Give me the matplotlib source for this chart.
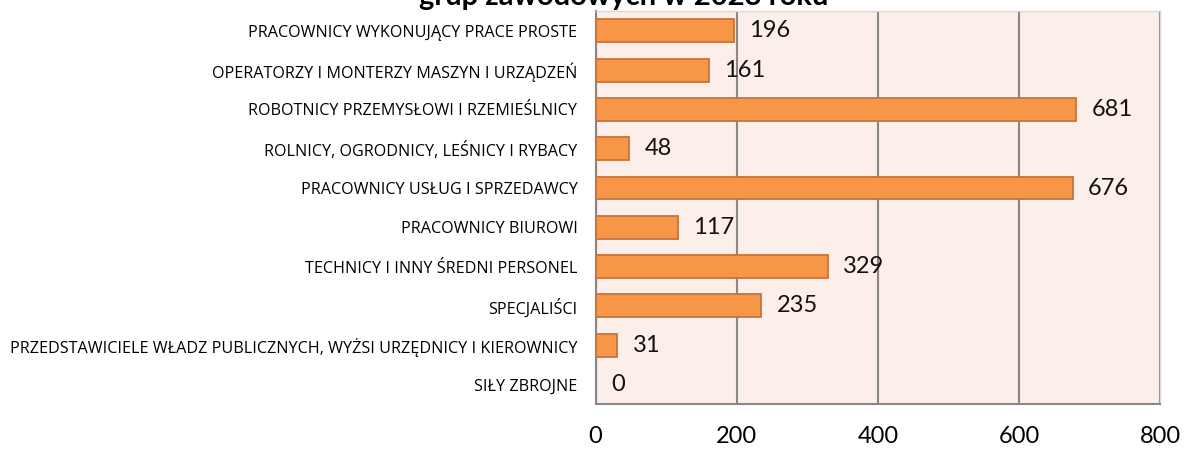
import matplotlib
matplotlib.use('Agg')
from matplotlib import pyplot as plt

# dane (od dołu do góry)
categories = [
    'SIŁY ZBROJNE',
    'PRZEDSTAWICIELE WŁADZ PUBLICZNYCH, WYŻSI URZĘDNICY I KIEROWNICY',
    'SPECJALIŚCI',
    'TECHNICY I INNY ŚREDNI PERSONEL',
    'PRACOWNICY BIUROWI',
    'PRACOWNICY USŁUG I SPRZEDAWCY',
    'ROLNICY, OGRODNICY, LEŚNICY I RYBACY',
    'ROBOTNICY PRZEMYSŁOWI I RZEMIEŚLNICY',
    'OPERATORZY I MONTERZY MASZYN I URZĄDZEŃ',
    'PRACOWNICY WYKONUJĄCY PRACE PROSTE',
]
values = [0, 31, 235, 329, 117, 676, 48, 681, 161, 196]
xticks = [0, 200, 400, 600, 800]
title = 'grup zawodowych w 2023 roku'

bar_color = '#F79646'
edge_color = '#C8733A'
bg_color = '#FCEEE9'
grid_color = '#878787'

fig = plt.figure(figsize=(11.84, 4.49), dpi=100)
ax = fig.add_axes([0.503, 0.10, 0.477, 0.875])
ax.set_facecolor(bg_color)

y = range(len(categories))
lw = [1.3 if v > 0 else 0 for v in values]
ax.barh(y, values, height=0.58, color=bar_color, edgecolor=edge_color,
        linewidth=lw, zorder=3)

# etykiety wartości
for i, v in enumerate(values):
    ax.annotate(str(v), (v, i), xytext=(11, 0), textcoords='offset points',
                va='center', ha='left', fontsize=17, family='Lato',
                color='#111111')

ax.set_xlim(0, 800)
ax.set_ylim(-0.5, len(categories) - 0.5)
ax.set_xticks(xticks)
ax.set_xticklabels([str(t) for t in xticks], fontsize=17, family='Lato')
ax.set_yticks(list(y))
ax.set_yticklabels(categories, fontsize=11.6, family='Open Sans')
ax.tick_params(axis='x', length=0, pad=16)
ax.tick_params(axis='y', length=0, pad=13)

ax.grid(axis='x', color=grid_color, linewidth=1.5, zorder=1)
for s in ['left', 'bottom']:
    ax.spines[s].set_color(grid_color)
    ax.spines[s].set_linewidth(1.5)
for s in ['top', 'right']:
    ax.spines[s].set_color('#D9D9D9')
    ax.spines[s].set_linewidth(1.0)

fig.text(0.527, 1 - 4.5 / 449, title, ha='center', va='baseline', fontsize=21,
         fontweight='bold', family='Lato')

fig.savefig('out.png', dpi=100)
